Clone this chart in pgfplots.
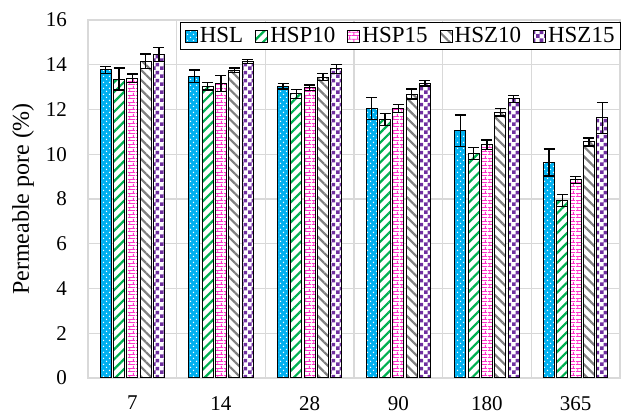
\documentclass[border=0pt]{standalone}
\usepackage{pgfplots}
\pgfplotsset{compat=1.18}
\usepackage{fontspec}
\setmainfont{Liberation Serif}
\usetikzlibrary{patterns,patterns.meta}

\definecolor{cHSL}{HTML}{00B0F0}
\definecolor{cHSP10}{HTML}{00B050}
\definecolor{cHSP15}{HTML}{FF33CC}
\definecolor{cHSZ10}{HTML}{808080}
\definecolor{cHSZ15}{HTML}{7030A0}
\definecolor{gridgray}{HTML}{D9D9D9}

\pgfdeclarepatternformonly{mydots}{\pgfqpoint{-1pt}{-1pt}}{\pgfqpoint{7pt}{7pt}}{\pgfqpoint{6pt}{6pt}}{
  \pgfpathcircle{\pgfqpoint{1.5pt}{1.5pt}}{0.75pt}
  \pgfpathcircle{\pgfqpoint{4.5pt}{4.5pt}}{0.75pt}
  \pgfusepath{fill}}
\pgfdeclarepatternformonly{mybricks}{\pgfqpoint{0pt}{0pt}}{\pgfqpoint{8pt}{7pt}}{\pgfqpoint{8pt}{7pt}}{
  \pgfsetlinewidth{1pt}
  \pgfpathmoveto{\pgfqpoint{0pt}{0.5pt}}\pgfpathlineto{\pgfqpoint{8pt}{0.5pt}}
  \pgfpathmoveto{\pgfqpoint{0pt}{4pt}}\pgfpathlineto{\pgfqpoint{8pt}{4pt}}
  \pgfpathmoveto{\pgfqpoint{2pt}{0.5pt}}\pgfpathlineto{\pgfqpoint{2pt}{4pt}}
  \pgfpathmoveto{\pgfqpoint{6pt}{4pt}}\pgfpathlineto{\pgfqpoint{6pt}{7pt}}
  \pgfusepath{stroke}}
\pgfdeclarepatternformonly{mychecker}{\pgfqpoint{0pt}{0pt}}{\pgfqpoint{8pt}{8pt}}{\pgfqpoint{8pt}{8pt}}{
  \pgfpathrectangle{\pgfqpoint{0pt}{0pt}}{\pgfqpoint{4pt}{4pt}}
  \pgfpathrectangle{\pgfqpoint{4pt}{4pt}}{\pgfqpoint{4pt}{4pt}}
  \pgfusepath{fill}}

\begin{document}
\begin{tikzpicture}
\useasboundingbox (-88pt,-36pt) rectangle (534pt,378pt);
\begin{axis}[
    scale only axis,
    width=532pt, height=358pt,
    ybar=2.3pt, bar width=11pt,
    xmin=-0.5, xmax=5.5,
    ymin=0, ymax=16,
    xtick={0,1,2,3,4,5},
    xticklabels={7,14,28,90,180,365},
    minor xtick={-0.5,0.5,1.5,2.5,3.5,4.5,5.5},
    ytick={0,2,...,16},
    ymajorgrids, xminorgrids,
    grid style={draw=gridgray, line width=1.2pt},
    minor grid style={draw=gridgray, line width=1.2pt},
    axis line style={draw=gridgray, line width=1.2pt},
    major tick length=0pt, minor tick length=0pt,
    /pgf/number format/assume math mode=true,
    tick label style={font=\fontsize{21}{24}\selectfont},
    yticklabel style={anchor=east, inner sep=0pt, xshift=-21pt},
    xticklabel style={anchor=north, inner sep=0pt, yshift=-18pt},
    ylabel={Permeable pore (\%)},
    every axis y label/.style={at={(axis description cs:0,0.5)}, rotate=90, anchor=center,
        yshift=65pt, font=\fontsize{24}{28}\selectfont},
    legend columns=-1,
    legend style={at={(1.002,0.994)}, anchor=north east, draw=black, line width=1pt,
        font=\fontsize{23}{26}\selectfont, inner xsep=4pt, inner ysep=3pt,
        /tikz/every even column/.append style={column sep=10pt}},
    legend image code/.code={\draw[#1, line width=1pt] (0pt,-6pt) rectangle (12pt,6pt);},
    error bars/y dir=both, error bars/y explicit,
    error bars/error bar style={line width=1.3pt, black},
    error bars/error mark options={rotate=90, mark size=5.5pt, line width=1.3pt, black},
    every axis plot/.append style={draw=black, line width=1pt},
]
\addplot[fill=cHSL, postaction={pattern=mydots, pattern color=white}] coordinates {
    (0,13.77) +- (0,0.15) (1,13.48) +- (0,0.28) (2,13.04) +- (0,0.13)
    (3,12.05) +- (0,0.49) (4,11.06) +- (0,0.70) (5,9.63) +- (0,0.60)};
\addlegendentry{HSL}
\addplot[fill=white, postaction={pattern={Lines[angle=45, distance=7pt, line width=2.2pt]}, pattern color=cHSP10}] coordinates {
    (0,13.36) +- (0,0.49) (1,13.04) +- (0,0.17) (2,12.70) +- (0,0.20)
    (3,11.55) +- (0,0.28) (4,10.04) +- (0,0.27) (5,7.93) +- (0,0.28)};
\addlegendentry{HSP10}
\addplot[fill=white, postaction={pattern=mybricks, pattern color=cHSP15}] coordinates {
    (0,13.39) +- (0,0.19) (1,13.16) +- (0,0.37) (2,12.97) +- (0,0.13)
    (3,12.05) +- (0,0.18) (4,10.43) +- (0,0.21) (5,8.86) +- (0,0.16)};
\addlegendentry{HSP15}
\addplot[fill=white, postaction={pattern={Lines[angle=-45, distance=7pt, line width=2.2pt]}, pattern color=cHSZ10}] coordinates {
    (0,14.15) +- (0,0.33) (1,13.76) +- (0,0.10) (2,13.45) +- (0,0.16)
    (3,12.69) +- (0,0.22) (4,11.87) +- (0,0.16) (5,10.55) +- (0,0.18)};
\addlegendentry{HSZ10}
\addplot[fill=white, postaction={pattern=mychecker, pattern color=cHSZ15}] coordinates {
    (0,14.46) +- (0,0.30) (1,14.15) +- (0,0.08) (2,13.82) +- (0,0.20)
    (3,13.17) +- (0,0.12) (4,12.47) +- (0,0.15) (5,11.63) +- (0,0.69)};
\addlegendentry{HSZ15}
\end{axis}
\end{tikzpicture}
\end{document}
